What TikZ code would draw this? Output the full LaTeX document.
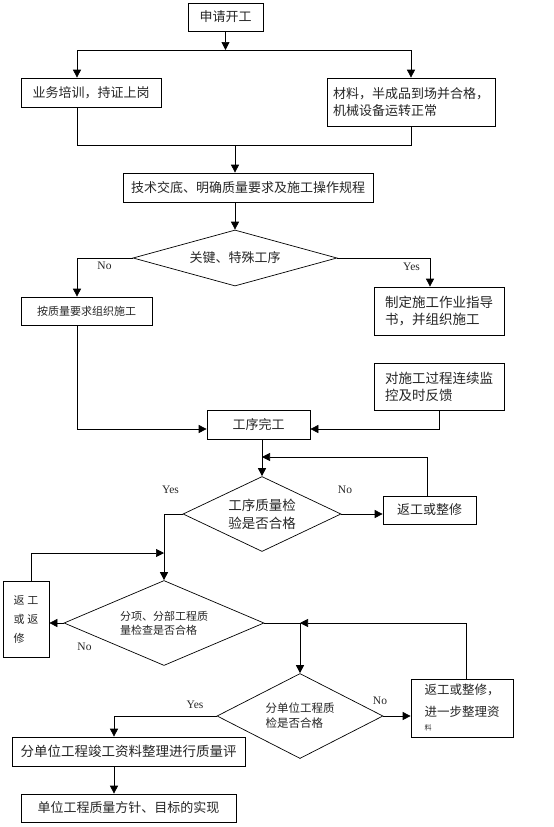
\documentclass[tikz,border=0pt]{standalone}
\usepackage{fontspec}
\setmainfont{Liberation Serif}
\newfontfamily\cjk{Noto Sans CJK SC}
\usetikzlibrary{arrows.meta,shapes.geometric}
\begin{document}
\begin{tikzpicture}[x=1pt,y=-1pt,
  line width=0.7pt,
  box/.style={draw, align=left, inner sep=0pt, text=black!85, font=\cjk\fontsize{13}{17}\selectfont},
  dia/.style={draw, diamond, inner sep=0pt, align=left, text=black!85, font=\cjk\fontsize{13}{17}\selectfont},
  arr/.style={-{Triangle[length=8pt,width=8pt]}},
  lbl/.style={font=\fontsize{11.5}{13}\selectfont, text=black!85, inner sep=0pt},
]
\useasboundingbox (0,0) rectangle (554,827);
\fill[white] (0,0) rectangle (554,827);

% boxes
\node[box, minimum width=75pt, minimum height=28pt] (start) at (225.5,17) {申请开工};
\node[box, minimum width=140pt, minimum height=29pt] (train) at (91,92.5) {业务培训，持证上岗};
\node[box, minimum width=168pt, minimum height=48pt] (mat) at (411,102) {材料，半成品到场并合格，\\机械设备运转正常};
\node[box, minimum width=250pt, minimum height=29pt] (tech) at (248,187.5) {技术交底、明确质量要求及施工操作规程};
\node[dia, minimum width=204pt, minimum height=56pt, shape aspect=3.6] (d1) at (235,258) {关键、特殊工序};
\node[box, minimum width=131pt, minimum height=28pt, font=\cjk\fontsize{11}{14}\selectfont] (org) at (86.5,311) {按质量要求组织施工};
\node[box, minimum width=130pt, minimum height=48pt, font=\cjk\fontsize{13.5}{17}\selectfont] (guide) at (439,311) {制定施工作业指导\\书，并组织施工};
\node[box, minimum width=130pt, minimum height=47pt, font=\cjk\fontsize{13.5}{17}\selectfont] (mon) at (439,386.5) {对施工过程连续监\\控及时反馈};
\node[box, minimum width=103pt, minimum height=29pt] (done) at (258.5,424.5) {工序完工};
\node[dia, minimum width=158pt, minimum height=75pt, shape aspect=2.1, font=\cjk\fontsize{13.5}{18}\selectfont] (d2) at (262,514) {工序质量检\\验是否合格};
\node[box, minimum width=93pt, minimum height=28pt] (rw1) at (429.5,510) {返工或整修};
\node[box, minimum width=46pt, minimum height=76pt, font=\cjk\fontsize{11}{19}\selectfont] (rw2) at (26,619) {返\hspace{3pt}工\\或\hspace{3pt}返\\修};
\node[dia, minimum width=200pt, minimum height=85pt, shape aspect=2.35, font=\cjk\fontsize{11}{14}\selectfont] (d3) at (164,623) {分项、分部工程质\\量检查是否合格};
\node[dia, minimum width=166pt, minimum height=85pt, shape aspect=1.95, font=\cjk\fontsize{11.5}{15}\selectfont] (d4) at (300,716) {分单位工程质\\检是否合格};
\node[box, minimum width=102pt, minimum height=58pt, font=\cjk\fontsize{12.5}{22}\selectfont] (rw3) at (462,708) {返工或整修，\\进一步整理资\\[-8pt]{\fontsize{7}{8}\selectfont 料}};
\node[box, minimum width=233pt, minimum height=29pt, font=\cjk\fontsize{13.5}{17}\selectfont] (eval) at (128.5,751.5) {分单位工程竣工资料整理进行质量评};
\node[box, minimum width=215pt, minimum height=28pt] (final) at (128.5,808) {单位工程质量方针、目标的实现};

% labels
\node[lbl] (n1) at (104.5,265.5) {No};
\node[lbl] (y1) at (411.5,267) {Yes};
\node[lbl] (y2) at (170.5,490) {Yes};
\node[lbl] (n2) at (345,490) {No};
\node[lbl] (n3) at (84.5,647) {No};
\node[lbl] (y3) at (195,705) {Yes};
\node[lbl] (n4) at (380,701) {No};

% connectors
\coordinate (j1) at (225.5,50);
\draw[arr] (start.south) -- (j1);
\draw[arr] (j1) -| ([xshift=-14pt]train.north);
\draw[arr] (j1) -| (mat.north);
\coordinate (j2) at (235,145);
\draw ([xshift=-14pt]train.south) |- (j2);
\draw (mat.south) |- (j2);
\draw[arr] (j2) -- (j2 |- tech.north);
\draw[arr] (j2 |- tech.south) -- (d1.north);
\draw[arr] (d1.west) -| ([xshift=-9.5pt]org.north);
\draw[arr] (d1.east) -| ([xshift=-9pt]guide.north);
\draw[arr] ([xshift=-9.5pt]org.south) |- ([yshift=-4.5pt]done.west);
\draw[arr] (mon.south) |- ([yshift=-4.5pt]done.east);
\draw[arr] ([xshift=3.5pt]done.south) -- (d2.north);
\coordinate (f1) at (262,457);
\draw[arr] ([xshift=-2.5pt]rw1.north) |- (f1);
\draw[arr] (d2.east) -- (d2.east -| rw1.west);
\draw[arr] (d2.west) -| (d3.north);
\coordinate (f2) at (164,553);
\draw[arr] ([xshift=5pt]rw2.north) |- (f2);
\draw[arr] (d3.west) -- (d3.west -| rw2.east);
\draw[arr] (d3.east) -| (d4.north);
\coordinate (f3) at (300,623);
\draw[arr] ([xshift=4pt]rw3.north) |- (f3);
\draw[arr] (d4.east) -- (d4.east -| rw3.west);
\draw[arr] (d4.west) -| ([xshift=-14.5pt]eval.north);
\draw[arr] ([xshift=-14.5pt]eval.south) -- ([xshift=-14.5pt]final.north);
\end{tikzpicture}
\end{document}
